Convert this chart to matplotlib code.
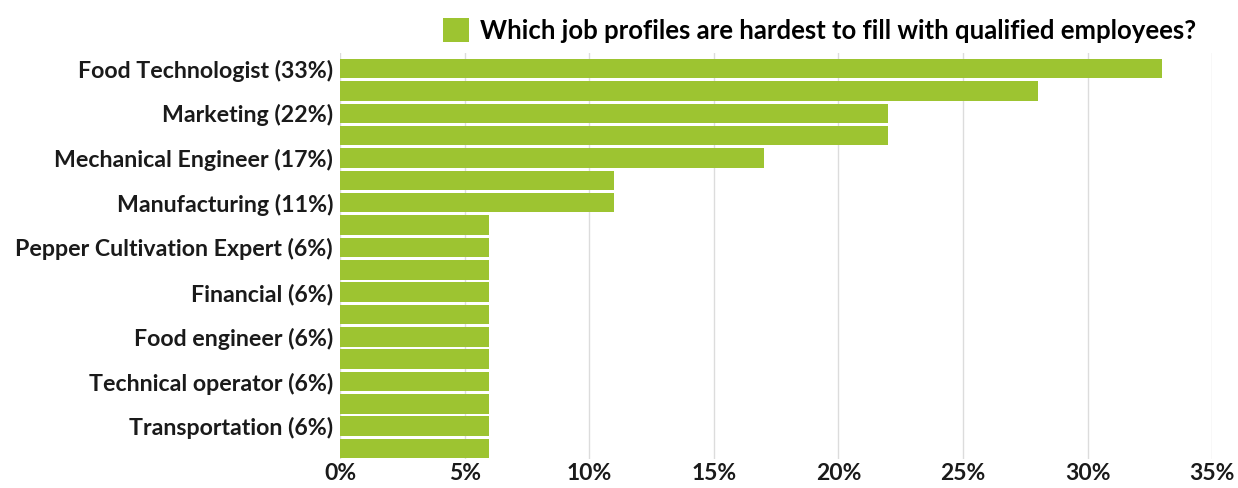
import matplotlib.pyplot as plt
import numpy as np

# Share of respondents per job profile (%), top to bottom
values = [33, 28, 22, 22, 17, 11, 11, 6, 6, 6, 6, 6, 6, 6, 6, 6, 6, 6]
# Only every other bar carries a label
tick_labels = [
    "Food Technologist (33%)",
    "Marketing (22%)",
    "Mechanical Engineer (17%)",
    "Manufacturing (11%)",
    "Pepper Cultivation Expert (6%)",
    "Financial (6%)",
    "Food engineer (6%)",
    "Technical operator (6%)",
    "Transportation (6%)",
]
x_ticks = [0, 5, 10, 15, 20, 25, 30, 35]
series_name = "Which job profiles are hardest to fill with qualified employees?"

plt.rcParams['font.family'] = ['Lato', 'DejaVu Sans']
plt.rcParams['font.weight'] = 'bold'

fig = plt.figure(figsize=(12.38, 4.88), dpi=100)
ax = fig.add_axes([0.2746, 0.0594, 0.7045, 0.8318])

y = np.arange(len(values))
ax.barh(y, values, height=0.87, color='#9DC431', label=series_name, zorder=3)

ax.set_ylim(len(values) - 0.53, -0.7)
ax.set_xlim(0, 35)

ax.set_yticks(y[::2])
ax.set_yticklabels(tick_labels, fontsize=16.7, fontweight='bold', color='#1a1a1a')
ax.set_xticks(x_ticks)
ax.set_xticklabels([f"{t}%" for t in x_ticks], fontsize=16.5, fontweight='bold', color='#1a1a1a')
ax.tick_params(axis='both', length=0)
ax.tick_params(axis='x', pad=3)
ax.tick_params(axis='y', pad=5)

ax.grid(axis='x', color='#dcdcdc', linewidth=1, zorder=0)
for side in ax.spines.values():
    side.set_visible(False)

fig.legend(loc='lower left', bbox_to_anchor=(0.358, 0.912), frameon=False,
           prop={'size': 18.5, 'weight': 'bold'}, handlelength=1.0, handleheight=1.05,
           handletextpad=0.45, borderpad=0, borderaxespad=0)

plt.savefig("out.png", dpi=100)
